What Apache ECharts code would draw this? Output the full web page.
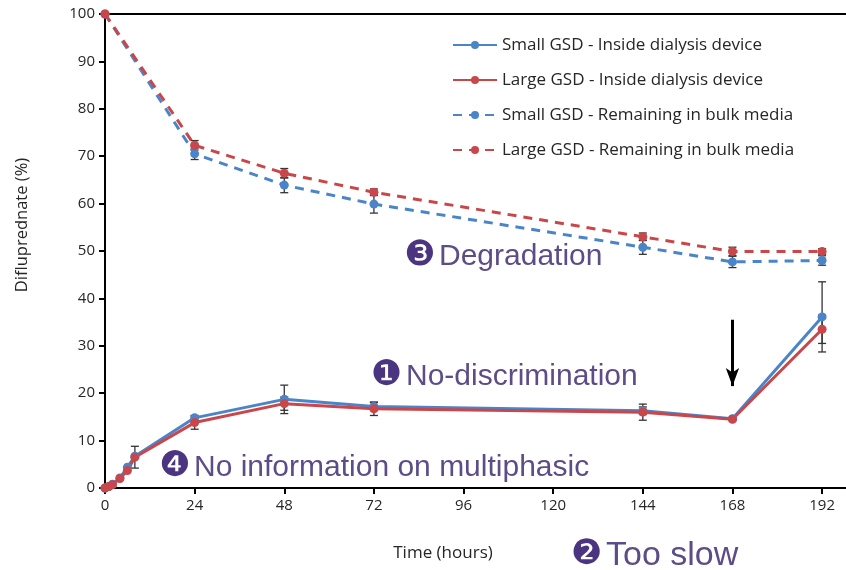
<!DOCTYPE html>
<html>
  <head>
    <meta charset="utf-8" />
    <title>Difluprednate release</title>
    <script src="https://cdn.jsdelivr.net/npm/echarts@6/dist/echarts.min.js"></script>
  </head>
  <body style="margin: 0">
    <div id="main" style="width: 846px; height: 570px"></div>
    <script>
      // time points (hours)
      var timesIn = [0, 1, 2, 4, 6, 8, 24, 48, 72, 144, 168, 192];
      var timesBulk = [0, 24, 48, 72, 144, 168, 192];
      var xTicks = [0, 24, 48, 72, 96, 120, 144, 168, 192];

      // inside dialysis device
      var smallIn = [0, 0.3, 0.8, 2.1, 4.4, 6.7, 14.8, 18.7, 17.2, 16.3, 14.6, 36.1];
      var largeIn = [0, 0.3, 0.7, 2.0, 3.7, 6.5, 13.8, 17.8, 16.7, 16.0, 14.5, 33.5];
      var smallInErr = [0, 0, 0, 0, 0, 0, 0.5, 3.0, 0.9, 0.8, 0.3, 7.4];
      var largeInErr = [0, 0, 0, 0, 0, 2.3, 1.4, 1.4, 1.4, 1.7, 0.3, 3.0];

      // remaining in bulk media
      var smallBulk = [100, 70.5, 63.9, 59.9, 50.8, 47.7, 48.0];
      var largeBulk = [100, 72.3, 66.4, 62.4, 53.0, 49.9, 49.9];
      var smallBulkErr = [0, 1.2, 1.6, 1.9, 1.5, 1.2, 1.0];
      var largeBulkErr = [0, 1.0, 1.0, 0.7, 0.8, 0.9, 0.6];

      var names = [
        "Small GSD - Inside dialysis device",
        "Large GSD - Inside dialysis device",
        "Small GSD - Remaining in bulk media",
        "Large GSD - Remaining in bulk media",
      ];
      var blue = "#4a84c9";
      var red = "#c9474a";

      function pairs(xs, ys) {
        return xs.map(function (x, i) {
          return [x, ys[i]];
        });
      }
      function errData(xs, ys, es) {
        var out = [];
        xs.forEach(function (x, i) {
          if (es[i] > 0) out.push([x, ys[i] - es[i], ys[i] + es[i]]);
        });
        return out;
      }
      function errSeries(data) {
        return {
          type: "custom",
          silent: true,
          z: 1,
          data: data,
          encode: { x: 0, y: [1, 2] },
          renderItem: function (params, api) {
            var lo = api.coord([api.value(0), api.value(1)]);
            var hi = api.coord([api.value(0), api.value(2)]);
            var w = 4;
            var st = { stroke: "#333", lineWidth: 1.3 };
            return {
              type: "group",
              children: [
                { type: "line", shape: { x1: lo[0], y1: lo[1], x2: hi[0], y2: hi[1] }, style: st },
                { type: "line", shape: { x1: lo[0] - w, y1: lo[1], x2: lo[0] + w, y2: lo[1] }, style: st },
                { type: "line", shape: { x1: hi[0] - w, y1: hi[1], x2: hi[0] + w, y2: hi[1] }, style: st },
              ],
            };
          },
        };
      }
      function lineSeries(name, data, color, dashed) {
        return {
          name: name,
          type: "line",
          data: data,
          symbol: "circle",
          symbolSize: 9,
          z: 3,
          itemStyle: { color: color },
          lineStyle: { color: color, width: 3, type: dashed ? [9, 7] : "solid" },
        };
      }

      // numbered purple notes: circled digit + label
      function anno(num, text, x, y, size) {
        return [
          {
            type: "text",
            x: x,
            y: y,
            style: {
              text: num,
              fontSize: 35,
              fontFamily: "DejaVu Sans",
              fill: "#4b3580",
              verticalAlign: "middle",
            },
          },
          {
            type: "text",
            x: x + 35,
            y: y + 1,
            style: {
              text: text,
              fontSize: size || 30,
              fontFamily: "Liberation Sans, Arial, sans-serif",
              fill: "#5c4d88",
              verticalAlign: "middle",
            },
          },
        ];
      }

      var option = {
        backgroundColor: "#fff",
        animation: false,
        textStyle: { fontFamily: "Open Sans, Liberation Sans, sans-serif" },
        grid: { left: 105, right: 0, top: 14, bottom: 82 },
        legend: {
          data: names,
          orient: "vertical",
          left: 447,
          top: 30,
          itemWidth: 44,
          itemHeight: 10,
          itemGap: 15,
          textStyle: { fontSize: 17, lineHeight: 20, color: "#262626" },
        },
        xAxis: [
          {
            type: "value",
            min: 0,
            max: 198.4,
            axisLine: { lineStyle: { color: "#000", width: 2 } },
            axisTick: { customValues: xTicks, length: 6, inside: false, lineStyle: { color: "#000", width: 2 } },
            axisLabel: { customValues: xTicks, fontSize: 15, color: "#262626", margin: 10 },
            splitLine: { show: false },
          },
          {
            type: "value",
            position: "top",
            min: 0,
            max: 198.4,
            axisLine: { show: true, lineStyle: { color: "#000", width: 2 } },
            axisTick: { show: false },
            axisLabel: { show: false },
            splitLine: { show: false },
          },
        ],
        yAxis: {
          type: "value",
          min: 0,
          max: 100,
          interval: 10,
          axisLine: { show: true, lineStyle: { color: "#000", width: 2 } },
          axisTick: { show: true, length: 6, lineStyle: { color: "#000", width: 2 } },
          axisLabel: { fontSize: 15, color: "#262626", margin: 10 },
          splitLine: { show: false },
        },
        graphic: [
          {
            type: "text",
            x: 22,
            y: 225,
            rotation: Math.PI / 2,
            style: {
              text: "Difluprednate (%)",
              fontSize: 16.5,
              fill: "#262626",
              fontFamily: "Open Sans, sans-serif",
              align: "center",
              verticalAlign: "middle",
            },
          },
          {
            type: "text",
            x: 443,
            y: 553,
            style: {
              text: "Time (hours)",
              fontSize: 17,
              fill: "#262626",
              fontFamily: "Open Sans, sans-serif",
              align: "center",
              verticalAlign: "middle",
            },
          },
        ]
          .concat(anno("\u2778", "Degradation", 404, 256))
          .concat(anno("\u2776", "No-discrimination", 371, 376))
          .concat(anno("\u2779", "No information on multiphasic", 159, 467))
          .concat(anno("\u2777", "Too slow", 571, 555, 34)),
        series: [
          errSeries(errData(timesIn, smallIn, smallInErr)),
          errSeries(errData(timesIn, largeIn, largeInErr)),
          errSeries(errData(timesBulk, smallBulk, smallBulkErr)),
          errSeries(errData(timesBulk, largeBulk, largeBulkErr)),
          lineSeries(names[0], pairs(timesIn, smallIn), blue, false),
          Object.assign(lineSeries(names[1], pairs(timesIn, largeIn), red, false), {
            markLine: {
              silent: true,
              symbol: ["none", "arrow"],
              symbolSize: [10, 18],
              label: { show: false },
              lineStyle: { color: "#000", width: 3, type: "solid" },
              data: [[{ coord: [168, 35.5] }, { coord: [168, 21.5] }]],
            },
          }),
          lineSeries(names[2], pairs(timesBulk, smallBulk), blue, true),
          lineSeries(names[3], pairs(timesBulk, largeBulk), red, true),
        ],
      };

      var myChart = echarts.init(document.getElementById("main"));
      myChart.setOption(option);
    </script>
  </body>
</html>
